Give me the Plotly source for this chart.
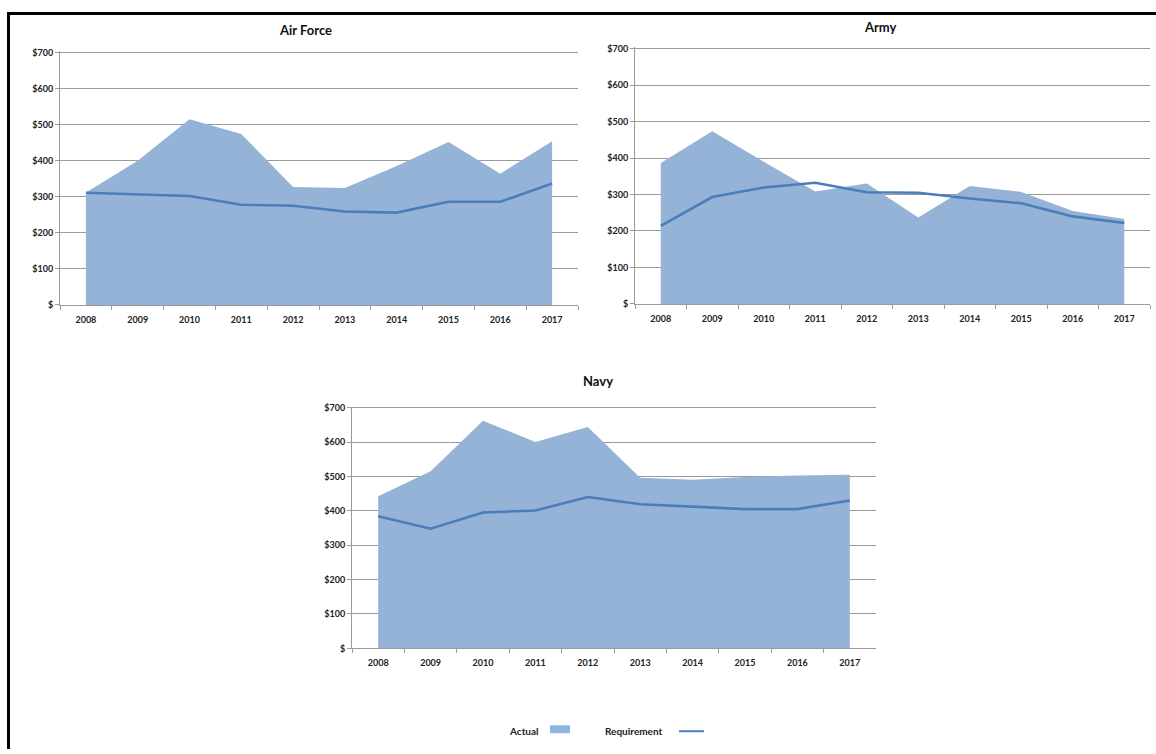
import plotly.graph_objects as go

W, H = 1156, 754

years = ["2008", "2009", "2010", "2011", "2012", "2013", "2014", "2015", "2016", "2017"]

air_force_actual = [312, 400, 515, 474, 327, 324, 385, 452, 364, 454]
air_force_requirement = [311, 306, 302, 278, 275, 259, 256, 286, 286, 337]

army_actual = [386, 473, 390, 308, 330, 237, 323, 307, 255, 233]
army_requirement = [214, 293, 319, 332, 306, 305, 289, 276, 240, 222]

navy_actual = [442, 515, 662, 600, 644, 496, 490, 498, 503, 505]
navy_requirement = [384, 348, 395, 401, 440, 419, 412, 405, 405, 430]

y_tick_values = [0, 100, 200, 300, 400, 500, 600, 700]
y_tick_labels = ["$", "$100", "$200", "$300", "$400", "$500", "$600", "$700"]

FILL = "#95B3D7"
LINE = "#4A7EBB"
GRID = "#9a9a9a"
FONT = "Lato, Open Sans, sans-serif"


def px_x(x):
    return x / W


def px_y(y):
    return 1 - y / H


# panel name, actual, requirement, plot box in pixels (left, right, top, bottom), title centre
panels = [
    ("Air Force", air_force_actual, air_force_requirement, (60, 578, 46, 304), (305, 25)),
    ("Army", army_actual, army_requirement, (635, 1150, 42, 303), (880, 22)),
    ("Navy", navy_actual, navy_requirement, (352, 876, 406, 652), (598, 381)),
]

fig = go.Figure()
layout = {}
annotations = []

for i, (name, actual, req, box, title_pos) in enumerate(panels, start=1):
    xa = "x" if i == 1 else f"x{i}"
    ya = "y" if i == 1 else f"y{i}"
    fig.add_trace(go.Scatter(
        x=years, y=actual, mode="lines", fill="tozeroy", fillcolor=FILL,
        line=dict(width=0, color=FILL), name="Actual", showlegend=False,
        xaxis=xa, yaxis=ya, hoverinfo="skip",
    ))
    fig.add_trace(go.Scatter(
        x=years, y=req, mode="lines", line=dict(width=2.6, color=LINE),
        name="Requirement", showlegend=False, xaxis=xa, yaxis=ya, hoverinfo="skip",
    ))
    left, right, top, bottom = box
    xkey = "xaxis" if i == 1 else f"xaxis{i}"
    ykey = "yaxis" if i == 1 else f"yaxis{i}"
    layout[xkey] = dict(
        domain=[px_x(left), px_x(right)], anchor=ya, type="category",
        range=[-0.5, 9.5], showgrid=False, showline=True, linecolor=GRID,
        linewidth=1, ticks="outside", tickson="boundaries", ticklen=4,
        tickcolor=GRID, ticklabelstandoff=6,
        tickfont=dict(family=FONT, size=9, color="#222", weight="bold"),
        fixedrange=True,
    )
    layout[ykey] = dict(
        domain=[px_y(bottom), px_y(top + 1)], anchor=xa, range=[0, 703],
        tickvals=y_tick_values, ticktext=y_tick_labels, showgrid=True,
        gridcolor=GRID, gridwidth=1, showline=True, linecolor=GRID, linewidth=1,
        ticks="outside", ticklen=4, tickcolor=GRID, zeroline=False,
        tickfont=dict(family=FONT, size=9, color="#222", weight="bold"),
        fixedrange=True,
    )
    annotations.append(dict(
        text=name, x=px_x(title_pos[0]), y=px_y(title_pos[1]), xref="paper", yref="paper",
        xanchor="center", yanchor="middle", showarrow=False,
        font=dict(family=FONT, size=13, color="#111", weight="bold"),
    ))

# legend row at the bottom
annotations.append(dict(
    text="Actual", x=px_x(541), y=px_y(736), xref="paper", yref="paper",
    xanchor="right", yanchor="middle", showarrow=False,
    font=dict(family=FONT, size=10, color="#222", weight="bold"),
))
annotations.append(dict(
    text="Requirement", x=px_x(665), y=px_y(736), xref="paper", yref="paper",
    xanchor="right", yanchor="middle", showarrow=False,
    font=dict(family=FONT, size=10, color="#222", weight="bold"),
))

shapes = [
    dict(type="rect", xref="paper", yref="paper", x0=px_x(550), x1=px_x(570),
         y0=px_y(738), y1=px_y(730), fillcolor="#8DB4E2", line=dict(width=0)),
    dict(type="line", xref="paper", yref="paper", x0=px_x(679), x1=px_x(704),
         y0=px_y(736), y1=px_y(736), line=dict(color=LINE, width=2)),
    # outer frame (top and left edges)
    dict(type="line", xref="paper", yref="paper", x0=px_x(8.5), x1=px_x(8.5),
         y0=0, y1=px_y(8.5), line=dict(color="black", width=3)),
    dict(type="line", xref="paper", yref="paper", x0=px_x(7), x1=1,
         y0=px_y(8.5), y1=px_y(8.5), line=dict(color="black", width=3)),
]

fig.update_layout(
    width=W, height=H, margin=dict(l=0, r=0, t=0, b=0),
    paper_bgcolor="white", plot_bgcolor="white", showlegend=False,
    annotations=annotations, shapes=shapes, **layout,
)

fig.write_html("out.html")
